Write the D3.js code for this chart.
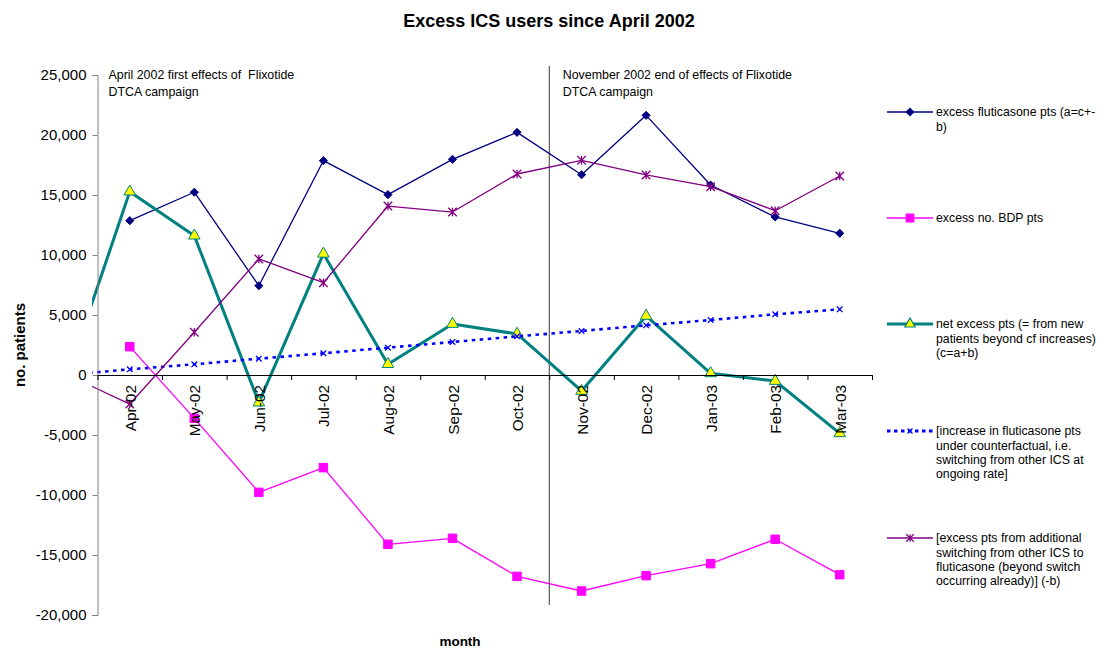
<!DOCTYPE html>
<html>
<head>
<meta charset="utf-8">
<script src="https://cdn.jsdelivr.net/npm/d3@7"></script>
<style>
  body { margin: 0; background: #fff; }
  svg { font-family: "Liberation Sans", Arial, sans-serif; }
</style>
</head>
<body>
<div id="grafico"></div>
<script>
// categorias: Mar-02 fica antes do eixo (só aparece o começo das linhas)
const months = ["Mar-02", "Apr-02", "May-02", "Jun-02", "Jul-02", "Aug-02", "Sep-02",
                "Oct-02", "Nov-02", "Dec-02", "Jan-03", "Feb-03", "Mar-03"];

// valores das séries (null = sem valor)
const fluticasone = [null, 12860, 15230, 7440, 17860, 15030, 17970, 20220, 16690, 21640, 15830, 13170, 11810];
const bdp = [null, 2360, -3610, -9780, -7720, -14110, -13610, -16780, -18000, -16720, -15720, -13690, -16640];
const netExcess = [-600, 15280, 11610, -2300, 10100, 900, 4250, 3420, -1330, 4920, 140, -500, -4860];
const counterfactual = [0, 470, 890, 1360, 1810, 2280, 2750, 3220, 3670, 4140, 4580, 5060, 5470];
const switching = [100, -2420, 3560, 9670, 7690, 14080, 13580, 16750, 17890, 16670, 15690, 13690, 16580];

const yTicks = [-20000, -15000, -10000, -5000, 0, 5000, 10000, 15000, 20000, 25000];

const legendLabels = [
    ["excess fluticasone pts (a=c+-", "b)"],
    ["excess no. BDP pts"],
    ["net excess pts (= from new", "patients beyond cf increases)", "(c=a+b)"],
    ["[increase in fluticasone pts", "under counterfactual, i.e.", "switching from other ICS at", "ongoing rate]"],
    ["[excess pts from additional", "switching from other ICS to", "fluticasone (beyond switch", "occurring already)] (-b)"]
];

const notes = [
    ["April 2002 first effects of  Flixotide", "DTCA campaign"],
    ["November 2002 end of effects of Flixotide", "DTCA campaign"]
];

// símbolo asterisco (x + barra vertical) como no Excel
const symbolStar = {
    draw(context, size) {
        const r = Math.sqrt(size) / 2;
        context.moveTo(-r, -r); context.lineTo(r, r);
        context.moveTo(-r, r); context.lineTo(r, -r);
        context.moveTo(0, -r); context.lineTo(0, r);
    }
};

// configuração das séries
const series = [
    {values: fluticasone, color: "#000080", width: 1.3, symbol: d3.symbolDiamond2, size: 42, fill: "#000080", stroke: "#000080"},
    {values: bdp, color: "#ff00ff", width: 1.3, symbol: d3.symbolSquare, size: 72, fill: "#ff00ff", stroke: "#ff00ff"},
    {values: netExcess, color: "#008080", width: 3, symbol: d3.symbolTriangle, size: 58, fill: "#ffff00", stroke: "#008080"},
    {values: counterfactual, color: "#0000ff", width: 2.6, dash: "3.5,4.5", symbol: d3.symbolTimes, size: 22, fill: "none", stroke: "#0000ff"},
    {values: switching, color: "#800080", width: 1.3, symbol: symbolStar, size: 72, fill: "none", stroke: "#800080"}
];

// dimensões e margens
const margin = {top: 75, right: 227, bottom: 35, left: 97.5};
const width = 1099 - margin.left - margin.right;
const height = 650 - margin.top - margin.bottom;

const root = d3.select("#grafico")
    .append("svg")
    .attr("width", 1099)
    .attr("height", 650);

const svg = root.append("g")
    .attr("transform", `translate(${margin.left},${margin.top})`);

// escalas
const xScale = d3.scaleLinear()
    .domain([0.5, 12.5])
    .range([0, width]);

const yScale = d3.scaleLinear()
    .domain([-20000, 25000])
    .range([height, 0]);

const fmt = d3.formatLocale({decimal: ".", thousands: ",", grouping: [3], currency: ["", ""], minus: "-"}).format(",");

// área de recorte
svg.append("clipPath")
    .attr("id", "recorte")
    .append("rect")
    .attr("x", -5.5)
    .attr("y", -margin.top)
    .attr("width", width + 20)
    .attr("height", 650);

// linha vertical (fim dos efeitos)
svg.append("line")
    .attr("x1", xScale(7.5)).attr("x2", xScale(7.5))
    .attr("y1", -9).attr("y2", 530)
    .attr("stroke", "#3a3a3a")
    .attr("stroke-width", 1);

// notas
notes.forEach((lines, k) => {
    const t = svg.append("text")
        .attr("x", k === 0 ? xScale(0.5) + 11 : xScale(7.5) + 13.5)
        .attr("y", 4.3)
        .style("font-size", "12.4px")
        .style("white-space", "pre")
        .attr("fill", "#000");
    lines.forEach((l, j) => {
        t.append("tspan")
            .attr("x", k === 0 ? xScale(0.5) + 11 : xScale(7.5) + 13.5)
            .attr("dy", j === 0 ? 0 : 16.7)
            .text(l);
    });
});

// linhas e marcadores
const line = d3.line()
    .defined(d => d.v !== null)
    .x(d => xScale(d.i))
    .y(d => yScale(d.v));

const plot = svg.append("g").attr("clip-path", "url(#recorte)");

series.forEach(s => {
    const pts = s.values.map((v, i) => ({i, v}));
    plot.append("path")
        .attr("fill", "none")
        .attr("stroke", s.color)
        .attr("stroke-width", s.width)
        .attr("stroke-dasharray", s.dash || null)
        .attr("stroke-linejoin", "round")
        .attr("d", line(pts));

    plot.selectAll(null)
        .data(pts.filter(d => d.v !== null && d.i > 0))
        .enter()
        .append("path")
        .attr("transform", d => `translate(${xScale(d.i)},${yScale(d.v)})`)
        .attr("d", d3.symbol(s.symbol, s.size))
        .attr("fill", s.fill)
        .attr("stroke", s.stroke)
        .attr("stroke-width", s.fill === "none" ? 1.3 : 1);
});

// eixo y
const yAxis = svg.append("g")
    .call(d3.axisLeft(yScale).tickValues(yTicks).tickSize(5).tickPadding(6).tickFormat(fmt));
yAxis.select(".domain").attr("stroke", "#808080");
yAxis.selectAll(".tick line").attr("stroke", "#808080");
yAxis.selectAll("text")
    .style("font-size", "15px")
    .attr("fill", "#000");

// eixo x (marcas entre categorias)
const xAxis = svg.append("g")
    .attr("transform", `translate(0,${yScale(0)})`)
    .call(d3.axisBottom(xScale).tickValues(d3.range(0.5, 13, 1)).tickSize(5).tickSizeOuter(0).tickFormat(""));
xAxis.select(".domain").attr("stroke", "#000");

// rótulos dos meses
const xLabels = svg.append("g")
    .attr("transform", `translate(0,${yScale(0)})`)
    .call(d3.axisBottom(xScale).tickValues(d3.range(1, 13)).tickSize(0).tickFormat(i => months[i]));
xLabels.select(".domain").remove();
xLabels.selectAll("text")
    .attr("transform", "rotate(-90)")
    .attr("text-anchor", "end")
    .attr("x", -10)
    .attr("y", 0)
    .attr("dy", "0.36em")
    .style("font-size", "15.4px")
    .attr("fill", "#000");

// título
root.append("text")
    .attr("x", 549)
    .attr("y", 26.5)
    .attr("text-anchor", "middle")
    .style("font-size", "18px")
    .style("font-weight", "bold")
    .text("Excess ICS users since April 2002");

// labels dos eixos
root.append("text")
    .attr("transform", "rotate(-90)")
    .attr("x", -345)
    .attr("y", 25)
    .attr("text-anchor", "middle")
    .style("font-size", "15px")
    .style("font-weight", "bold")
    .text("no. patients");

root.append("text")
    .attr("x", 460)
    .attr("y", 646)
    .attr("text-anchor", "middle")
    .style("font-size", "13.5px")
    .style("font-weight", "bold")
    .text("month");

// legenda
const legendY = [112, 218, 324, 431, 538];
const legend = root.selectAll(".legend")
    .data(series)
    .enter()
    .append("g")
    .attr("class", "legend")
    .attr("transform", (d, i) => `translate(887,${legendY[i]})`);

legend.append("line")
    .attr("x1", 0).attr("x2", 46)
    .attr("stroke", d => d.color)
    .attr("stroke-width", d => d.dash ? 3 : d.width)
    .attr("stroke-dasharray", d => d.dash ? "3.5,3.5" : null);

legend.append("path")
    .attr("transform", "translate(23,0)")
    .attr("d", d => d3.symbol(d.symbol, d.size * 0.8)())
    .attr("fill", d => d.fill)
    .attr("stroke", d => d.stroke)
    .attr("stroke-width", 1.2);

legend.each(function(d, i) {
    const t = d3.select(this).append("text")
        .attr("x", 49)
        .attr("y", 0)
        .attr("dy", "0.36em")
        .style("font-size", "12.3px");
    legendLabels[i].forEach((l, j) => {
        t.append("tspan")
            .attr("x", 49)
            .attr("dy", j === 0 ? "0.36em" : 14.3)
            .text(l);
    });
});
</script>
</body>
</html>
